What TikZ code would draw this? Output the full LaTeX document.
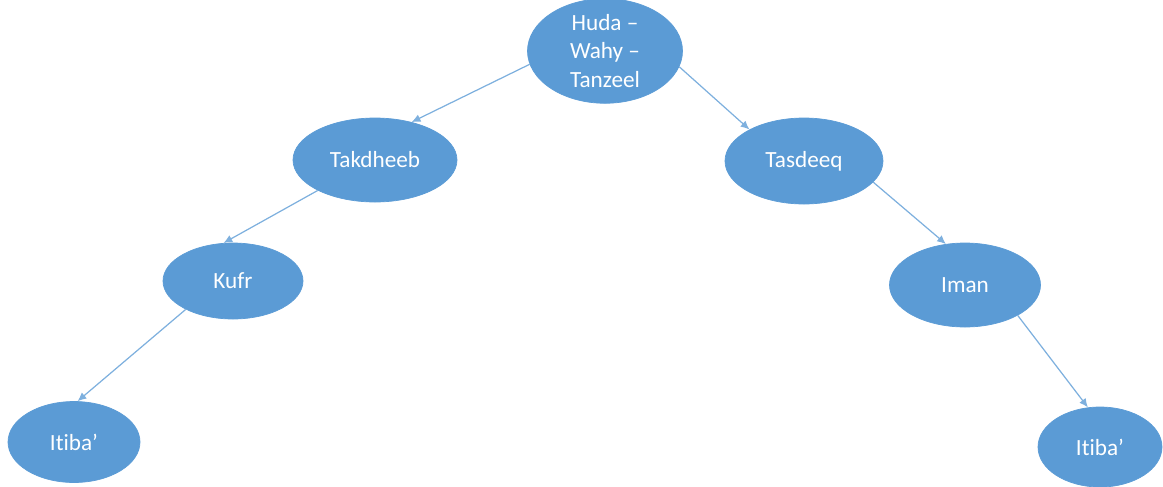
\documentclass[tikz,border=0pt]{standalone}
\usepackage{fontspec}
\setmainfont{Carlito}[Ligatures=NoCommon]
\usetikzlibrary{arrows.meta,shapes}
\definecolor{officeblue}{HTML}{5B9BD5}
\definecolor{linkblue}{HTML}{7EB0DE}

\begin{document}
\begin{tikzpicture}[
  bubble/.style={ellipse,fill=officeblue,draw=officeblue,line width=0.4pt,inner sep=0pt,
    text=white,align=center,font=\fontsize{13.2}{16.4}\selectfont},
  link/.style={draw=linkblue,line width=0.7pt,-{Latex[length=5pt,width=4.5pt]}}
]
\useasboundingbox (0,0) rectangle (23.26,-9.72);

% Tree of ellipses
\node[bubble,minimum width=3.1cm,minimum height=1.94cm] (huda) at (12.1,-1.02) {Huda –\\Wahy –\\Tanzeel};
\node[bubble,minimum width=3.28cm,minimum height=1.68cm] (takdheeb) at (7.5,-3.2) {Takdheeb};
\node[bubble,minimum width=3.16cm,minimum height=1.72cm] (tasdeeq) at (16.08,-3.22) {Tasdeeq};
\node[bubble,minimum width=2.8cm,minimum height=1.52cm] (kufr) at (4.66,-5.62) {Kufr};
\node[bubble,minimum width=3.02cm,minimum height=1.68cm] (iman) at (19.3,-5.7) {Iman};
\node[bubble,minimum width=2.64cm,minimum height=1.62cm] (itibaL) at (1.48,-8.84) {Itiba’};
\node[bubble,minimum width=2.48cm,minimum height=1.6cm] (itibaR) at (22.0,-8.94) {Itiba’};

% Links
\draw[link] (huda.190) -- (takdheeb.46);
\draw[link] (huda.348) -- (tasdeeq.150);
\draw[link] (takdheeb.208) -- (kufr.104);
\draw[link] (tasdeeq.343) -- (iman.115);
\draw[link] (kufr.211) -- (itibaL.85);
\draw[link] (iman.330) -- (itibaR.107);
\end{tikzpicture}
\end{document}
